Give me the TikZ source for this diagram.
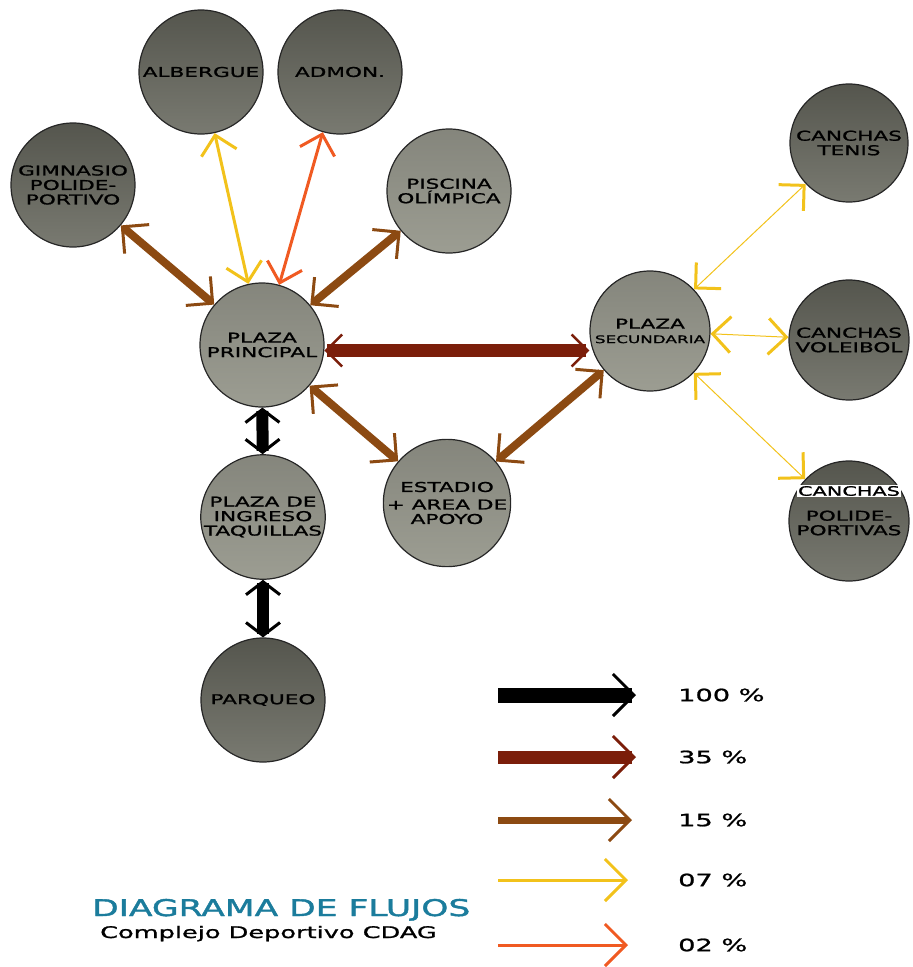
\documentclass[tikz,border=0pt]{standalone}
\usepackage{fontspec}
\usepackage{xcolor}
\usepackage{tikz}
\usetikzlibrary{arrows.meta,positioning}

\newfontfamily\techfont[FakeStretch=1.6, FakeBold=1.2]{DejaVu Sans}
\newfontfamily\titlefont[FakeStretch=1.5, FakeBold=1.8]{DejaVu Sans}

\definecolor{flowblack}{HTML}{000000}
\definecolor{flowdark}{HTML}{7B1E0A}
\definecolor{flowbrown}{HTML}{8C4A12}
\definecolor{flowyellow}{HTML}{F2C21B}
\definecolor{floworange}{HTML}{F05A22}
\definecolor{titleblue}{HTML}{1B7C9C}
\definecolor{placedark}{HTML}{6A6B61}
\definecolor{placelight}{HTML}{9C9D92}

\begin{document}
\begin{tikzpicture}[
    x=1pt, y=-1pt,
    place/.style={circle, draw=black!85, line width=1.2pt, minimum size=124pt, inner sep=0pt, align=center, font=\techfont\fontsize{13.5}{14.5}\selectfont},
    darkplace/.style={place, top color=placedark!80!black, bottom color=placedark!90!white},
    lightplace/.style={place, top color=placelight!85!black, bottom color=placelight},
    flow100/.style={draw=flowblack, line width=12pt, >={Straight Barb[length=13pt, width=34pt, line width=3pt]}, <->},
    flow35/.style={draw=flowdark, line width=13pt, >={Straight Barb[length=16pt, width=32pt, line width=2.5pt]}, <->},
    flow15/.style={draw=flowbrown, line width=8pt, >={Straight Barb[length=19pt, width=38pt, line width=3pt]}, <->},
    flow07/.style={draw=flowyellow, line width=3pt, >={Straight Barb[length=18pt, width=36pt, line width=3pt]}, <->},
    flow02/.style={draw=floworange, line width=3pt, >={Straight Barb[length=18pt, width=36pt, line width=3pt]}, <->},
    legarrow/.style={->, >={Straight Barb[length=21pt, width=42pt, line width=3pt]}},
    legtext/.style={inner sep=0pt, font=\techfont\fontsize{17}{17}\selectfont}
]
\useasboundingbox (0,0) rectangle (913,967);

% places
\node[darkplace] (alb) at (201,72) {ALBERGUE};
\node[darkplace] (adm) at (340,72) {ADMON.};
\node[darkplace] (gim) at (73,185) {GIMNASIO\\POLIDE-\\PORTIVO};
\node[lightplace] (pis) at (449,191) {PISCINA\\OLÍMPICA};
\node[lightplace] (pp) at (262,345) {PLAZA\\PRINCIPAL};
\node[lightplace, minimum size=120pt] (ps) at (650,331) {PLAZA\\{\fontsize{10.5}{10.5}\selectfont SECUNDARIA}};
\node[lightplace] (est) at (447,503) {ESTADIO\\[3pt]+ AREA DE\\APOYO};
\node[lightplace] (ing) at (263,517) {PLAZA DE\\INGRESO\\TAQUILLAS};
\node[darkplace] (par) at (263,700) {PARQUEO};
\node[darkplace, minimum size=118pt] (ten) at (849,143) {CANCHAS\\TENIS};
\node[darkplace, minimum size=120pt] (vol) at (849,340) {CANCHAS\\VOLEIBOL};
\node[darkplace, minimum size=120pt] (pol) at (849,521) {\rule{0pt}{14pt}POLIDE-\\PORTIVAS};
\node[fill=white, inner sep=1pt, font=\techfont\fontsize{13}{13}\selectfont] (polc) at (849,491) {CANCHAS};

% flows
\draw[flow15] (pp) -- (gim);
\draw[flow07] (pp) -- (alb);
\draw[flow02] (pp) -- (adm);
\draw[flow15] (pp) -- (pis);
\draw[flow35] (pp.-5) -- (pp.-5 -| ps.west);
\draw[flow15] (pp) -- (est);
\draw[flow15] (est) -- (ps);
\draw[flow100] (pp) -- (ing);
\draw[flow100] (ing) -- (par);
\draw[flow07, line width=1pt] (ps) -- (ten);
\draw[flow07, line width=1pt] (ps) -- (vol);
\draw[flow07, line width=1pt] (ps) -- (pol);

% legend
\coordinate (s100) at (498,695);
\coordinate (e100) at (636,695);
\coordinate (s35) at (498,757);
\coordinate (e35) at (636,757);
\coordinate (s15) at (498,820);
\coordinate (e15) at (632,820);
\coordinate (s07) at (498,880);
\coordinate (e07) at (628,880);
\coordinate (s02) at (498,945);
\coordinate (e02) at (628,945);
\node[legtext, right=42pt of e100] (p100) {100 \%};
\node[legtext, right=42pt of e35] (p35) {35 \%};
\node[legtext, right=46pt of e15] (p15) {15 \%};
\node[legtext, right=50pt of e07] (p07) {07 \%};
\node[legtext, right=50pt of e02] (p02) {02 \%};
\draw[flow100, legarrow, line width=15pt] (s100) -- (e100);
\draw[flow35, legarrow] (s35) -- (e35);
\draw[flow15, legarrow, line width=7pt] (s15) -- (e15);
\draw[flow07, legarrow] (s07) -- (e07);
\draw[flow02, legarrow] (s02) -- (e02);

% title
\node[anchor=base west, inner sep=0pt, text=titleblue, font=\titlefont\fontsize{23}{23}\selectfont] (title) at (92,916) {DIAGRAMA DE FLUJOS};
\node[anchor=base west, inner sep=0pt, font=\techfont\fontsize{16}{16}\selectfont] (subtitle) at (100,938) {Complejo Deportivo CDAG};
\end{tikzpicture}
\end{document}
